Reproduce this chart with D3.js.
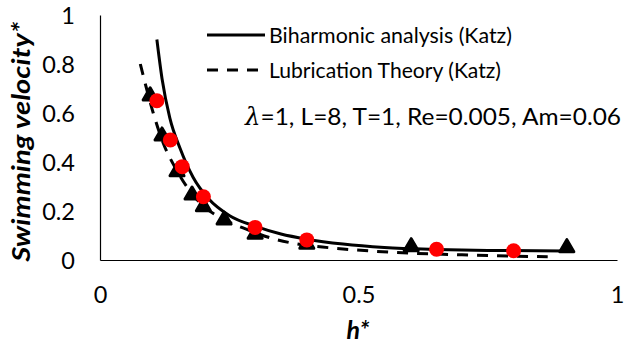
<!DOCTYPE html>
<html>
<head>
<meta charset="utf-8">
<script src="https://cdn.jsdelivr.net/npm/d3@7"></script>
<style>
  html, body { margin: 0; padding: 0; background: #fff; }
  svg { display: block; }
  text { font-family: Lato, "Open Sans", sans-serif; fill: #000; }
</style>
</head>
<body>
<svg id="chart" width="625" height="347"></svg>
<script>
// ---- data ----
const xTicks = [0, 0.5, 1];
const xTickLabels = ["0", "0.5", "1"];
const yTicks = [0, 0.2, 0.4, 0.6, 0.8, 1];
const yTickLabels = ["0", "0.2", "0.4", "0.6", "0.8", "1"];

// Biharmonic analysis (Katz) - solid curve
const bihH = [0.110, 0.120, 0.135, 0.155, 0.180, 0.210, 0.250, 0.300, 0.350, 0.400, 0.470, 0.550, 0.650, 0.750, 0.900];
const bihV = [0.900, 0.740, 0.580, 0.455, 0.338, 0.250, 0.182, 0.138, 0.106, 0.085, 0.065, 0.051, 0.043, 0.039, 0.037];

// Lubrication Theory (Katz) - dashed curve
const lubH = [0.078, 0.090, 0.103, 0.120, 0.150, 0.178, 0.200, 0.240, 0.284, 0.330, 0.380, 0.430, 0.470, 0.560, 0.700, 0.866];
const lubV = [0.800, 0.700, 0.600, 0.490, 0.360, 0.270, 0.220, 0.165, 0.125, 0.090, 0.066, 0.053, 0.045, 0.032, 0.021, 0.013];

// black triangles
const triH = [0.097, 0.120, 0.149, 0.178, 0.200, 0.240, 0.300, 0.400, 0.602, 0.903];
const triV = [0.670, 0.506, 0.360, 0.265, 0.218, 0.163, 0.105, 0.064, 0.054, 0.050];

// red circles
const dotH = [0.110, 0.136, 0.159, 0.200, 0.300, 0.400, 0.651, 0.800];
const dotV = [0.650, 0.490, 0.381, 0.258, 0.133, 0.082, 0.044, 0.038];

const legendLabels = ["Biharmonic analysis (Katz)", "Lubrication Theory (Katz)"];
const xTitle = "h*";
const yTitle = "Swimming  velocity*";
const noteParts = ["\u03BB", "=1, L=8, T=1, Re=0.005, Am=0.06"];

// ---- drawing ----
const svg = d3.select("#chart");
const x = d3.scaleLinear().domain([0, 1]).range([100, 617]);
const y = d3.scaleLinear().domain([0, 1]).range([260, 15]);

const zip = (a, b) => a.map((v, i) => [v, b[i]]);

// axes
const gx = svg.append("g").attr("transform", "translate(0,260)")
  .call(d3.axisBottom(x).tickValues(xTicks).tickFormat((d, i) => xTickLabels[i])
    .tickSize(0).tickSizeOuter(0).tickPadding(27));
const gy = svg.append("g").attr("transform", "translate(100,0)")
  .call(d3.axisLeft(y).tickValues(yTicks).tickFormat((d, i) => yTickLabels[i])
    .tickSize(0).tickSizeOuter(0).tickPadding(25));
[gx, gy].forEach(g => {
  g.select(".domain").attr("stroke", "#000").attr("stroke-width", 1.2);
  g.selectAll("text").attr("font-size", 23.5).attr("font-family", "Lato, 'Open Sans', sans-serif").attr("fill", "#000");
});
gy.selectAll("text").attr("dy", "0.36em");
gx.selectAll("text").attr("dy", "0.68em");

// lines
const line = d3.line().x(d => x(d[0])).y(d => y(d[1])).curve(d3.curveMonotoneX);
svg.append("path").datum(zip(bihH, bihV)).attr("d", line)
  .attr("fill", "none").attr("stroke", "#000").attr("stroke-width", 3);
svg.append("path").datum(zip(lubH, lubV)).attr("d", line)
  .attr("fill", "none").attr("stroke", "#000").attr("stroke-width", 3)
  .attr("stroke-dasharray", "11,9");

// triangles
const tri = d3.symbol().type(d3.symbolTriangle).size(85);
svg.append("g").selectAll("path").data(zip(triH, triV)).join("path")
  .attr("d", tri)
  .attr("transform", d => `translate(${x(d[0])},${y(d[1])})`)
  .attr("fill", "#000").attr("stroke", "#000").attr("stroke-width", 3)
  .attr("stroke-linejoin", "round");

// circles
svg.append("g").selectAll("circle").data(zip(dotH, dotV)).join("circle")
  .attr("cx", d => x(d[0])).attr("cy", d => y(d[1])).attr("r", 7.5)
  .attr("fill", "#FF0000");

// legend
const lg = svg.append("g");
const legY = [35, 70];
legendLabels.forEach((lab, i) => {
  lg.append("line").attr("x1", 207).attr("x2", 265).attr("y1", legY[i]).attr("y2", legY[i])
    .attr("stroke", "#000").attr("stroke-width", 3)
    .attr("stroke-dasharray", i === 1 ? "11,9" : null);
  lg.append("text").attr("x", 269).attr("y", legY[i] + 8)
    .attr("font-size", 21)
    .attr("textLength", i === 0 ? 243 : 232).attr("lengthAdjust", "spacingAndGlyphs")
    .text(lab);
});

// annotation
const note = svg.append("text").attr("x", 245).attr("y", 125).attr("font-size", 24)
  .attr("textLength", 376).attr("lengthAdjust", "spacingAndGlyphs");
note.append("tspan").attr("font-family", "'DejaVu Serif', 'Liberation Serif', serif")
  .attr("font-style", "italic").text(noteParts[0]);
note.append("tspan").text(noteParts[1]);

// axis titles
svg.append("text").attr("x", 358).attr("y", 339).attr("text-anchor", "middle")
  .attr("font-size", 25).attr("font-weight", "bold").attr("font-style", "italic")
  .text(xTitle);
svg.append("text").attr("transform", "translate(30,141.7) rotate(-90)")
  .attr("text-anchor", "middle").attr("font-size", 24)
  .attr("font-weight", "bold").attr("font-style", "italic")
  .attr("textLength", 240).attr("lengthAdjust", "spacingAndGlyphs")
  .text(yTitle);
</script>
</body>
</html>
